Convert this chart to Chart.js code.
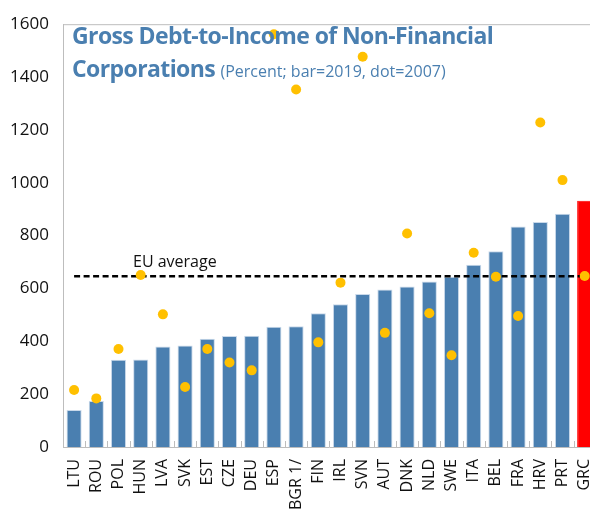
<!DOCTYPE html>
<html>
<head>
<meta charset="utf-8">
<script src="https://cdn.jsdelivr.net/npm/chart.js@4.4.1/dist/chart.umd.min.js"></script>
<style>
  html, body { margin: 0; padding: 0; background: #fff; overflow: hidden; }
  #wrap { position: relative; width: 608px; height: 517px; }
  #title {
    position: absolute; left: 72px; top: 19px;
    font-family: "Open Sans", sans-serif; font-weight: 700;
    font-size: 23px; line-height: 33px; color: #4a7fb0;
    letter-spacing: -0.6px;
  }
  #title .sub { font-weight: 400; font-size: 16px; letter-spacing: 0; }
  #eu {
    position: absolute; left: 133px; top: 250px;
    font-family: "Open Sans", sans-serif; font-size: 16px; color: #111;
  }
</style>
</head>
<body>
<div id="wrap">
  <canvas id="debtChart" width="608" height="517"></canvas>
  <div id="title">Gross Debt-to-Income of Non-Financial<br>Corporations <span class="sub">(Percent; bar=2019, dot=2007)</span></div>
  <div id="eu">EU average</div>
</div>
<script>
// Countries sorted by 2019 ratio
const countries = ['LTU', 'ROU', 'POL', 'HUN', 'LVA', 'SVK', 'EST', 'CZE', 'DEU', 'ESP', 'BGR 1/', 'FIN',
                   'IRL', 'SVN', 'AUT', 'DNK', 'NLD', 'SWE', 'ITA', 'BEL', 'FRA', 'HRV', 'PRT', 'GRC'];
const debt2019 = [140, 174, 330, 331, 380, 384, 410, 420, 421, 455, 457, 506,
                  540, 579, 596, 607, 626, 644, 690, 741, 834, 851, 883, 932];
const debt2007 = [216, 184, 371, 651, 502, 227, 371, 320, 290, 1562, 1353, 396,
                  622, 1477, 432, 808, 506, 347, 735, 644, 496, 1228, 1010, 647];
const euAverage = 646;
const yTicks = [0, 200, 400, 600, 800, 1000, 1200, 1400, 1600];

const blue = '#4a7fb0';
const red = '#ff0000';
const gold = '#ffc000';

// Greece highlighted in red
const barColors = countries.map(c => c === 'GRC' ? red : blue);
const barBorders = countries.map(c => c === 'GRC' ? red : '#c9d9ea');

// Small inward tick marks between categories on the x axis
const catTicks = {
    id: 'catTicks',
    afterDatasetsDraw(chart) {
        const x = chart.scales.x, area = chart.chartArea, ctx = chart.ctx;
        ctx.save();
        ctx.strokeStyle = '#bdbdbd';
        ctx.lineWidth = 1;
        for (let i = 1; i < countries.length; i++) {
            const px = Math.round((x.getPixelForValue(i - 1) + x.getPixelForValue(i)) / 2) + 0.5;
            ctx.beginPath();
            ctx.moveTo(px, area.bottom);
            ctx.lineTo(px, area.bottom - 6);
            ctx.stroke();
        }
        // top frame line
        ctx.beginPath();
        ctx.moveTo(area.left, area.top + 0.5);
        ctx.lineTo(chart.width, area.top + 0.5);
        ctx.stroke();
        ctx.restore();
    }
};

new Chart(document.getElementById('debtChart'), {
    type: 'bar',
    data: {
        labels: countries,
        datasets: [{
            type: 'line',
            label: '2007',
            data: debt2007,
            showLine: false,
            pointRadius: 5,
            pointHoverRadius: 5,
            pointBackgroundColor: gold,
            pointBorderWidth: 0,
            order: 0
        }, {
            type: 'line',
            label: 'EU average',
            data: countries.map(() => euAverage),
            borderColor: '#000',
            borderWidth: 2.5,
            borderDash: [6, 3.5],
            pointRadius: 0,
            fill: false,
            order: 1
        }, {
            label: '2019',
            data: debt2019,
            backgroundColor: barColors,
            borderColor: barBorders,
            borderWidth: 1,
            categoryPercentage: 1,
            barPercentage: 0.68,
            order: 2
        }]
    },
    options: {
        responsive: false,
        animation: false,
        layout: { padding: { top: 9, right: 0, left: 0, bottom: 0 } },
        plugins: {
            legend: { display: false },
            tooltip: { enabled: false }
        },
        scales: {
            x: {
                grid: { display: false },
                border: { color: '#bdbdbd', width: 1 },
                ticks: {
                    color: '#111',
                    font: { family: 'Open Sans', size: 16 },
                    minRotation: 90,
                    maxRotation: 90,
                    autoSkip: false,
                    padding: 4
                },
                afterFit(scale) { scale.height = 70; }
            },
            y: {
                min: 0,
                max: 1600,
                afterBuildTicks(scale) { scale.ticks = yTicks.map(v => ({ value: v })); },
                grid: { display: false, drawTicks: false },
                border: { color: '#bdbdbd', width: 1 },
                ticks: {
                    color: '#111',
                    font: { family: 'Open Sans', size: 17 },
                    padding: 14,
                    callback: v => String(v)
                },
                afterFit(scale) { scale.width = 63; }
            }
        }
    },
    plugins: [catTicks]
});
</script>
</body>
</html>
